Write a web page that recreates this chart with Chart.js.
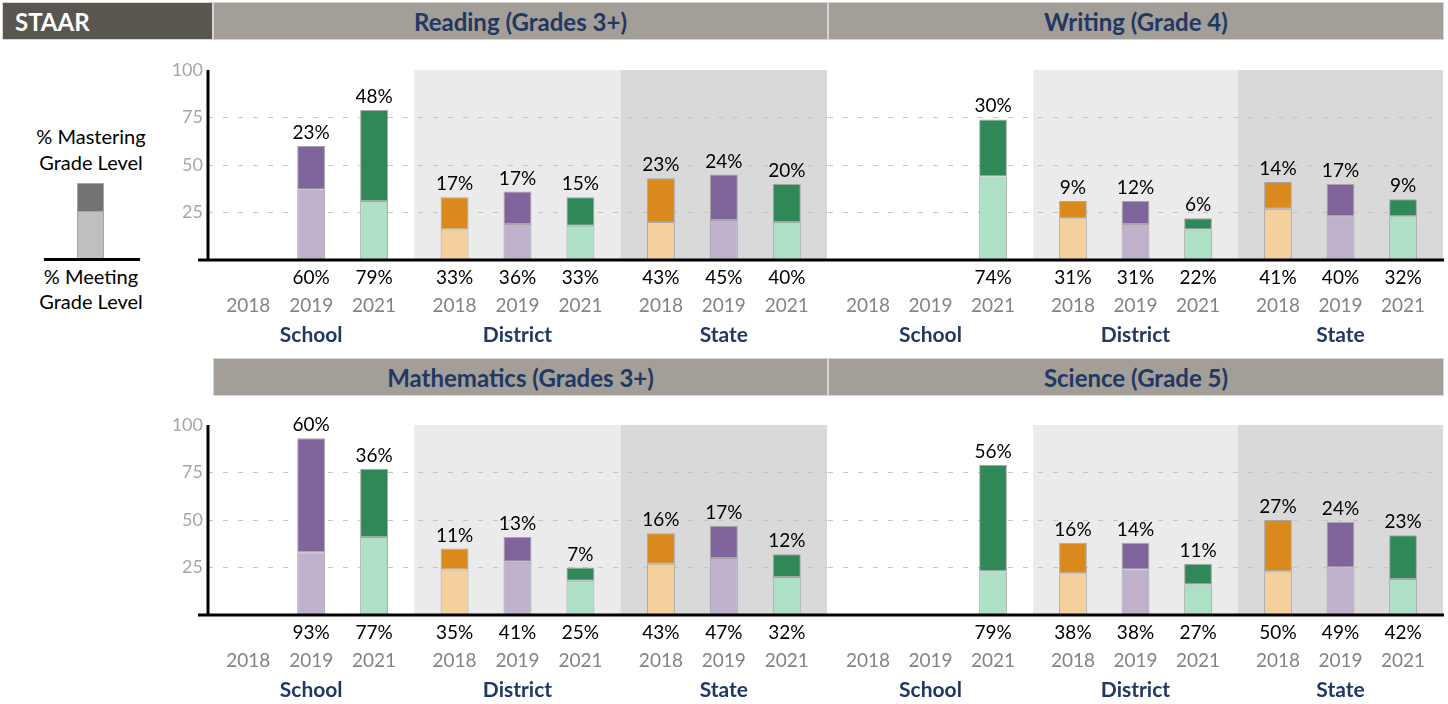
<!DOCTYPE html>
<html>
<head>
<meta charset="utf-8">
<script src="https://cdn.jsdelivr.net/npm/chart.js@4.4.0/dist/chart.umd.min.js"></script>
<style>
    body { margin: 0; width: 1448px; height: 704px; background: #fff; position: relative; overflow: hidden; font-family: Lato, sans-serif; }
    .hdr { position: absolute; height: 38px; background: #a39e97; color: #1f3864; font-weight: bold; font-size: 24px; display: flex; align-items: center; justify-content: center; box-sizing: border-box; border: 1px solid #d8d5d1; }
    .staar { background: #58564f; color: #fff; justify-content: flex-start; padding-left: 12px; }
    .panel { position: absolute; }
    .lg { position: absolute; left: 21px; width: 140px; text-align: center; font-size: 20px; color: #000; }
</style>
</head>
<body>
<div class="hdr staar" style="left:2px;top:2px;width:211px">STAAR</div>
<div class="hdr" id="h0" style="left:213px;top:2px;width:615px"></div>
<div class="hdr" id="h1" style="left:828px;top:2px;width:616px"></div>
<div class="hdr" id="h2" style="left:213px;top:358px;width:615px"></div>
<div class="hdr" id="h3" style="left:828px;top:358px;width:616px"></div>

<div class="lg" style="top:123px;line-height:26px">% Mastering<br>Grade Level</div>
<div style="position:absolute;left:77px;top:183px;width:27px;height:29px;background:#737373;border:1px solid #a6a6a6;box-sizing:border-box"></div>
<div style="position:absolute;left:77px;top:211px;width:27px;height:49px;background:#bfbfbf;border:1px solid #a6a6a6;box-sizing:border-box"></div>
<div style="position:absolute;left:44px;top:258px;width:96px;height:3px;background:#000"></div>
<div class="lg" style="top:264px;line-height:25px">% Meeting<br>Grade Level</div>

<canvas class="panel" id="p0" width="678" height="314" style="left:150px;top:44px"></canvas>
<canvas class="panel" id="p1" width="620" height="314" style="left:828px;top:44px"></canvas>
<canvas class="panel" id="p2" width="678" height="304" style="left:150px;top:400px"></canvas>
<canvas class="panel" id="p3" width="620" height="304" style="left:828px;top:400px"></canvas>

<script>
const groups = ['School', 'District', 'State']
const years = ['2018', '2019', '2021']
const subjects = ['Reading (Grades 3+)', 'Writing (Grade 4)', 'Mathematics (Grades 3+)', 'Science (Grade 5)']
const yTicks = [25, 50, 75, 100]

// one row per year, values for School, District, State
const readingMeeting = [[null, 33, 43], [60, 36, 45], [79, 33, 40]]
const readingMastering = [[null, 17, 23], [23, 17, 24], [48, 15, 20]]
const writingMeeting = [[null, 31, 41], [null, 31, 40], [74, 22, 32]]
const writingMastering = [[null, 9, 14], [null, 12, 17], [30, 6, 9]]
const mathMeeting = [[null, 35, 43], [93, 41, 47], [77, 25, 32]]
const mathMastering = [[null, 11, 16], [60, 13, 17], [36, 7, 12]]
const scienceMeeting = [[null, 38, 50], [null, 38, 49], [79, 27, 42]]
const scienceMastering = [[null, 16, 27], [null, 14, 24], [56, 11, 23]]

const darkColors = ['#da8a1c', '#80649c', '#308858']
const lightColors = ['#f3d09c', '#c0b1cd', '#ade0c5']
const bandColors = [null, '#ebebeb', '#d9d9d9']

subjects.forEach((s, i) => { document.getElementById('h' + i).textContent = s })

Chart.defaults.font.family = 'Lato'

const bands = {
    id: 'bands',
    beforeDraw(chart) {
        const ctx = chart.ctx
        const a = chart.chartArea
        const x = chart.scales.x
        const w = x.width / groups.length
        groups.forEach((g, i) => {
            if (!bandColors[i]) return
            const cx = x.getPixelForValue(i)
            ctx.fillStyle = bandColors[i]
            ctx.fillRect(cx - w / 2, a.top, w, a.bottom - a.top)
        })
    }
}

const labels = {
    id: 'labels',
    afterDraw(chart) {
        const ctx = chart.ctx
        const a = chart.chartArea
        const opts = chart.options.plugins.labels
        const meeting = opts.meeting
        const mastering = opts.mastering
        ctx.save()
        // axis lines
        ctx.strokeStyle = '#000'
        ctx.lineWidth = 3
        ctx.beginPath()
        ctx.moveTo(a.left - (opts.axis ? 10 : 1), a.bottom)
        ctx.lineTo(a.right + 1, a.bottom)
        ctx.stroke()
        if (opts.axis) {
            ctx.beginPath()
            ctx.moveTo(a.left, a.top)
            ctx.lineTo(a.left, a.bottom)
            ctx.stroke()
        }
        ctx.textAlign = 'center'
        ctx.textBaseline = 'alphabetic'
        years.forEach((yr, j) => {
            const meta = chart.getDatasetMeta(2 * j + 1)
            groups.forEach((g, i) => {
                const el = meta.data[i]
                ctx.font = '19px Lato'
                ctx.fillStyle = '#000'
                if (mastering[j][i] != null) ctx.fillText(mastering[j][i] + '%', el.x, el.y - 7)
                if (meeting[j][i] != null) ctx.fillText(meeting[j][i] + '%', el.x, a.bottom + 24)
                ctx.fillStyle = '#86827c'
                ctx.fillText(yr, el.x, a.bottom + 52)
            })
        })
        ctx.font = 'bold 21px Lato'
        ctx.fillStyle = '#1f3864'
        groups.forEach((g, i) => {
            ctx.fillText(g, chart.scales.x.getPixelForValue(i), a.bottom + 82)
        })
        ctx.restore()
    }
}

function makePanel(id, meeting, mastering, axis, pad) {
    const datasets = []
    years.forEach((yr, j) => {
        datasets.push({
            label: yr + ' meeting',
            data: meeting[j].map((v, i) => v == null ? null : v - mastering[j][i]),
            backgroundColor: lightColors[j],
            stack: yr
        })
        datasets.push({
            label: yr + ' mastering',
            data: mastering[j],
            backgroundColor: darkColors[j],
            stack: yr
        })
    })
    return new Chart(document.getElementById(id), {
        type: 'bar',
        data: { labels: groups, datasets: datasets },
        options: {
            responsive: false,
            animation: false,
            layout: { padding: pad },
            datasets: {
                bar: {
                    categoryPercentage: 0.915,
                    barPercentage: 0.444,
                    borderColor: '#a6a6a6',
                    borderWidth: 1,
                    borderSkipped: false
                }
            },
            scales: {
                x: { display: false, stacked: true },
                y: {
                    stacked: true,
                    min: 0,
                    max: 100,
                    afterBuildTicks: s => { s.ticks = yTicks.map(v => ({ value: v })) },
                    afterFit: s => { s.width = axis ? 58 : 0 },
                    ticks: { display: axis, padding: 5, color: '#a6a6a6', font: { size: 18 } },
                    grid: {
                        drawTicks: false,
                        lineWidth: 1,
                        color: c => c.tick && c.tick.value < 100 ? '#c4c4c4' : 'rgba(0,0,0,0)'
                    },
                    border: { display: false, dash: [5, 10] }
                }
            },
            plugins: {
                legend: { display: false },
                tooltip: { enabled: false },
                labels: { meeting: meeting, mastering: mastering, axis: axis }
            }
        },
        plugins: [bands, labels]
    })
}

makePanel('p0', readingMeeting, readingMastering, true, { left: 0, right: 1, top: 26, bottom: 98 })
makePanel('p1', writingMeeting, writingMastering, false, { left: 0, right: 5, top: 26, bottom: 98 })
makePanel('p2', mathMeeting, mathMastering, true, { left: 0, right: 1, top: 25, bottom: 89 })
makePanel('p3', scienceMeeting, scienceMastering, false, { left: 0, right: 5, top: 25, bottom: 89 })
</script>
</body>
</html>
